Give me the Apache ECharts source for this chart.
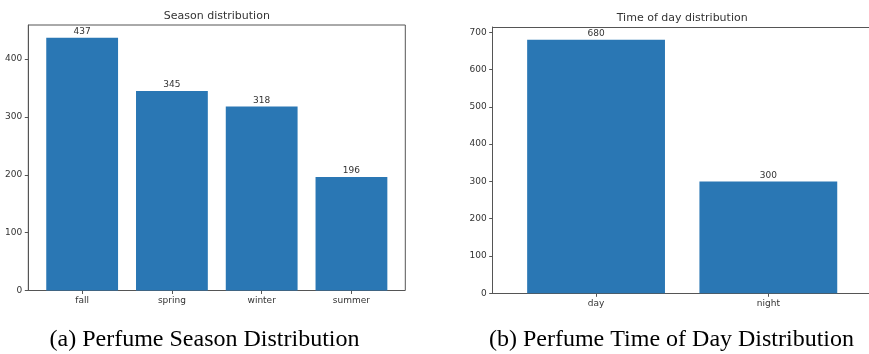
<!DOCTYPE html>
<html>
<head>
<meta charset="utf-8">
<script src="https://cdn.jsdelivr.net/npm/echarts@6/dist/echarts.min.js"></script>
<style>
html,body{margin:0;padding:0;background:#fff;}
#chart{width:869px;height:354px;}
</style>
</head>
<body>
<div id="chart"></div>
<script>
// ---- data ----
const seasonCategories = ['fall', 'spring', 'winter', 'summer'];
const seasonValues = [437, 345, 318, 196];
const seasonTicks = [0, 100, 200, 300, 400];

const timeCategories = ['day', 'night'];
const timeValues = [680, 300];
const timeTicks = [0, 100, 200, 300, 400, 500, 600, 700];

const seasonTitle = 'Season distribution';
const timeTitle = 'Time of day distribution';
const captionA = '(a) Perfume Season Distribution';
const captionB = '(b) Perfume Time of Day Distribution';

// ---- styling ----
const BAR = '#2a77b4';
const LINE = '#555';
const TXT = '#333';
const SANS = '"DejaVu Sans", sans-serif';
const SERIF = '"Liberation Serif", "Times New Roman", serif';

const seasonMax = Math.max(...seasonValues) * 1.05;
const timeMax = Math.max(...timeValues) * 1.05;

// matplotlib-like xlim of -0.6 .. n-0.4
function frames(left, width, n) {
  const unit = width / (n + 0.2);
  return { dataLeft: left + 0.1 * unit, dataWidth: width - 0.2 * unit };
}
const L = { left: 28.3, top: 25, width: 377, height: 265.5 };
const R = { left: 492.7, top: 27, width: 379, height: 266.3 };
const Ld = frames(L.left, L.width, seasonCategories.length);
const Rd = frames(R.left, R.width, timeCategories.length);

function frameY(gridIndex, max, ticks) {
  return {
    gridIndex, type: 'value', min: 0, max: max,
    splitLine: { show: false },
    axisLine: { show: true, lineStyle: { color: LINE, width: 1 } },
    axisTick: { show: true, length: 3.5, lineStyle: { color: LINE }, customValues: ticks },
    axisLabel: { show: true, color: TXT, fontSize: 9, fontFamily: SANS, margin: 6, customValues: ticks }
  };
}
function lineX(gridIndex, position) {
  return {
    gridIndex, type: 'value', min: 0, max: 1, position,
    axisLine: { show: true, lineStyle: { color: LINE, width: 1 } },
    axisTick: { show: false }, axisLabel: { show: false }, splitLine: { show: false }
  };
}
function hiddenAxis(gridIndex, type, extra) {
  return Object.assign({ gridIndex, type, show: false, splitLine: { show: false } }, extra || {});
}
function catX(gridIndex, cats) {
  return {
    gridIndex, type: 'category', data: cats, boundaryGap: true,
    axisLine: { show: false },
    axisTick: { show: true, alignWithLabel: true, length: 3.5, lineStyle: { color: LINE } },
    axisLabel: { color: TXT, fontSize: 9, fontFamily: SANS, margin: 6 },
    splitLine: { show: false }
  };
}
function barSeries(xi, yi, values) {
  return {
    type: 'bar', xAxisIndex: xi, yAxisIndex: yi, data: values,
    barCategoryGap: '20%',
    itemStyle: { color: BAR },
    label: { show: true, position: 'top', distance: 1.5, color: TXT, fontSize: 9, fontFamily: SANS },
    silent: true
  };
}

const chart = echarts.init(document.getElementById('chart'), null, { renderer: 'canvas' });
chart.setOption({
  animation: false,
  backgroundColor: '#fff',
  grid: [
    { left: L.left, top: L.top, width: L.width, height: L.height, show: true, borderColor: LINE, borderWidth: 1, backgroundColor: 'transparent' },
    { left: Ld.dataLeft, top: L.top, width: Ld.dataWidth, height: L.height },
    { left: R.left, top: R.top, width: R.width, height: R.height },
    { left: Rd.dataLeft, top: R.top, width: Rd.dataWidth, height: R.height }
  ],
  xAxis: [
    hiddenAxis(0, 'value', { min: 0, max: 1 }),
    catX(1, seasonCategories),
    lineX(2, 'bottom'),
    catX(3, timeCategories),
    lineX(2, 'top')
  ],
  yAxis: [
    frameY(0, seasonMax, seasonTicks),
    hiddenAxis(1, 'value', { min: 0, max: seasonMax }),
    frameY(2, timeMax, timeTicks),
    hiddenAxis(3, 'value', { min: 0, max: timeMax })
  ],
  series: [
    barSeries(1, 1, seasonValues),
    barSeries(3, 3, timeValues)
  ],
  graphic: [
    { type: 'text', x: L.left + L.width / 2, y: 15.7, style: { text: seasonTitle, fill: TXT, font: '11px ' + SANS, align: 'center', verticalAlign: 'middle' } },
    { type: 'text', x: R.left + R.width / 2, y: 17.7, style: { text: timeTitle, fill: TXT, font: '11px ' + SANS, align: 'center', verticalAlign: 'middle' } },
    { type: 'text', x: 204.5, y: 340, style: { text: captionA, fill: '#000', font: '24px ' + SERIF, align: 'center', verticalAlign: 'middle' } },
    { type: 'text', x: 671.5, y: 340, style: { text: captionB, fill: '#000', font: '24px ' + SERIF, align: 'center', verticalAlign: 'middle' } }
  ]
});
</script>
</body>
</html>
